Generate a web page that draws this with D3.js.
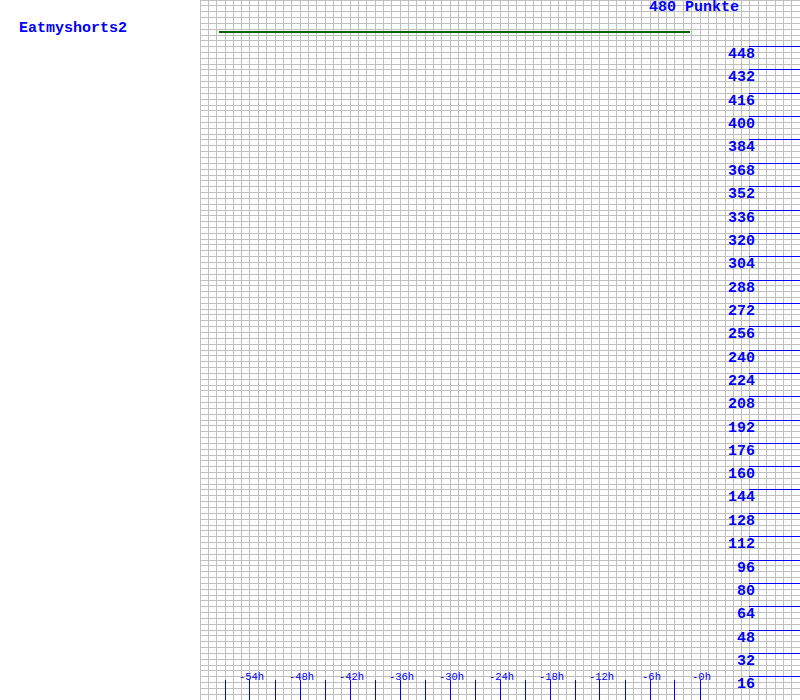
<!DOCTYPE html>
<html>
<head>
<meta charset="utf-8">
<script src="https://cdn.jsdelivr.net/npm/d3@7"></script>
<style>
html,body{margin:0;padding:0;background:#fff;}
svg{display:block;}
</style>
</head>
<body>
<svg id="chart" width="800" height="700"></svg>
<script>
// ---- data ----
const playerName = "Eatmyshorts2";
const titleText = "480 Punkte";
const seriesHours = [-57.75, -1.25];
const seriesValues = [458, 458];
const yTickValues = [16,32,48,64,80,96,112,128,144,160,176,192,208,224,240,256,272,288,304,320,336,352,368,384,400,416,432,448];
const xTickHours = [-57,-54,-51,-48,-45,-42,-39,-36,-33,-30,-27,-24,-21,-18,-15,-12,-9,-6,-3,0];
const xLabelHours = [-54,-48,-42,-36,-30,-24,-18,-12,-6,0];
const xLabelTexts = ["-54h","-48h","-42h","-36h","-30h","-24h","-18h","-12h","-6h","-0h"];

// ---- scales ----
const x = d3.scaleLinear().domain([-60, 12]).range([200, 800]);
const y = d3.scaleLinear().domain([0, 480]).range([700, 0]);
const px = v => Math.floor(v) + 0.5;

const svg = d3.select("#chart");
const font = "'Liberation Mono', 'DejaVu Sans Mono', monospace";

// grid
const g = svg.append("g").attr("shape-rendering", "crispEdges");
g.selectAll("line.vg").data(d3.range(-60, 13, 1)).join("line")
  .attr("x1", d => px(x(d))).attr("x2", d => px(x(d)))
  .attr("y1", 0).attr("y2", 700)
  .attr("stroke", "#c0c0c0").attr("stroke-width", 1);
g.selectAll("line.hg").data(d3.range(0, 481, 4)).join("line")
  .attr("x1", 200).attr("x2", 800)
  .attr("y1", d => px(y(d))).attr("y2", d => px(y(d)))
  .attr("stroke", "#c0c0c0").attr("stroke-width", 1);

// y ticks
const t = svg.append("g").attr("shape-rendering", "crispEdges");
t.selectAll("line.yt").data(yTickValues).join("line")
  .attr("x1", 749).attr("x2", 800)
  .attr("y1", d => px(y(d))).attr("y2", d => px(y(d)))
  .attr("stroke", "#0000ff").attr("stroke-width", 1);
svg.selectAll("text.yl").data(yTickValues).join("text")
  .attr("x", 755).attr("y", d => Math.floor(y(d)) + 12)
  .attr("text-anchor", "end")
  .attr("font-family", font).attr("font-weight", "bold").attr("font-size", "15px")
  .attr("fill", "#0000ff")
  .text(d => d);

// x ticks
t.selectAll("line.xt").data(xTickHours).join("line")
  .attr("x1", d => px(x(d))).attr("x2", d => px(x(d)))
  .attr("y1", 680).attr("y2", 700)
  .attr("stroke", "#0000ff").attr("stroke-width", 1);
svg.selectAll("text.xl").data(xLabelHours).join("text")
  .attr("x", d => x(d) + 1.5).attr("y", 680)
  .attr("text-anchor", "middle")
  .attr("font-family", font).attr("font-size", "10.5px")
  .attr("fill", "#0000ff")
  .text((d, i) => xLabelTexts[i]);

// series line
const line = d3.line().x((d, i) => x(seriesHours[i])).y(d => y(d));
svg.append("path").datum(seriesValues)
  .attr("d", line)
  .attr("fill", "none").attr("stroke", "#006400").attr("stroke-width", 2)
  .attr("shape-rendering", "crispEdges");

// texts
svg.append("text").attr("x", 649).attr("y", 11)
  .attr("font-family", font).attr("font-weight", "bold").attr("font-size", "15px")
  .attr("fill", "#0000ff").text(titleText);
svg.append("text").attr("x", 19).attr("y", 32)
  .attr("font-family", font).attr("font-weight", "bold").attr("font-size", "15px")
  .attr("fill", "#0000ff").text(playerName);
</script>
</body>
</html>
